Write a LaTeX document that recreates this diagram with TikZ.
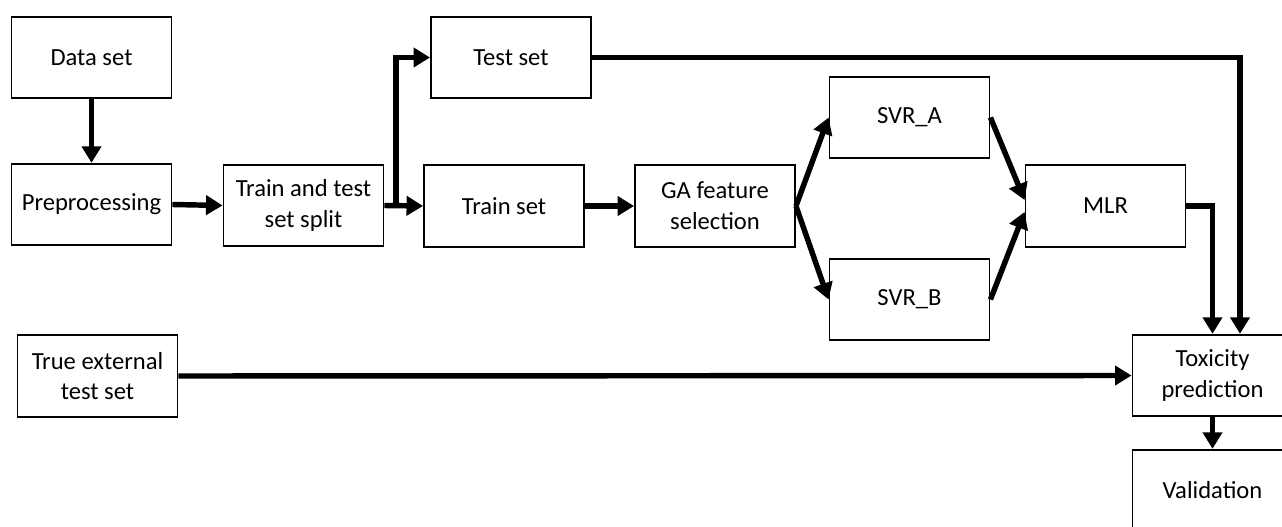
\documentclass[tikz,border=0pt]{standalone}
\usepackage{fontspec}
\setmainfont{Carlito}
\usetikzlibrary{arrows.meta}
\usetikzlibrary{calc}

\begin{document}
\begin{tikzpicture}[x=0.02cm, y=-0.02cm,
    block/.style={draw, line width=1.1pt, minimum width=3.2cm, minimum height=1.63cm,
        align=center, font=\fontsize{14}{17.5}\selectfont},
    link/.style={-{Triangle[length=0.33cm, width=0.38cm]}, line width=3.1pt}]
    % Picture frame (right and bottom boxes run past the edge)
    \useasboundingbox (0,0) rectangle (1282,527);
    \clip (0,0) rectangle (1282,527);

    % Input and preparation
    \node[block] (data) at (91.5,57.5) {Data set};
    \node[block] (prep) at (91.5,204.5) {Preprocessing};
    \node[block] (split) at (303.5,205.5) {Train and test\\set split};
    % Split outputs
    \node[block] (test) at (511,57.5) {Test set};
    \node[block] (train) at (504,206) {Train set};
    % Modelling
    \node[block] (ga) at (715,206) {GA feature\\selection};
    \node[block] (svra) at (909.5,117.5) {SVR\_A};
    \node[block] (svrb) at (909.5,299.5) {SVR\_B};
    \node[block] (mlr) at (1105.5,206) {MLR};
    % External data and results
    \node[block] (ext) at (97.5,376) {True external\\test set};
    \node[block] (tox) at (1212.5,375.5) {Toxicity\\prediction};
    \node[block] (val) at (1212.5,490.5) {Validation};

    % Arrows
    \draw[link] (data.south) -- (prep.north);
    \draw[link] (prep.east) -- (split.west);
    \coordinate (fork) at (396,205.5);
    \draw[link] (split.east) -- (train.west);
    \draw[link] (fork) |- (test.west);
    \draw[link] (train.east) -- (ga.west);
    \draw[link] (ga.east) -- (svra.west);
    \draw[link] (ga.east) -- (svrb.west);
    \draw[link] (svra.east) -- ([yshift=0.12cm]mlr.west);
    \draw[link] (svrb.east) -- ([yshift=-0.12cm]mlr.west);
    \draw[link] (mlr.east) -| (tox.north);
    \draw[link] (test.east) -| ([xshift=0.55cm]tox.north);
    \draw[link] (ext.east) -- (tox.west);
    \draw[link] (tox.south) -- (val.north);
\end{tikzpicture}
\end{document}
